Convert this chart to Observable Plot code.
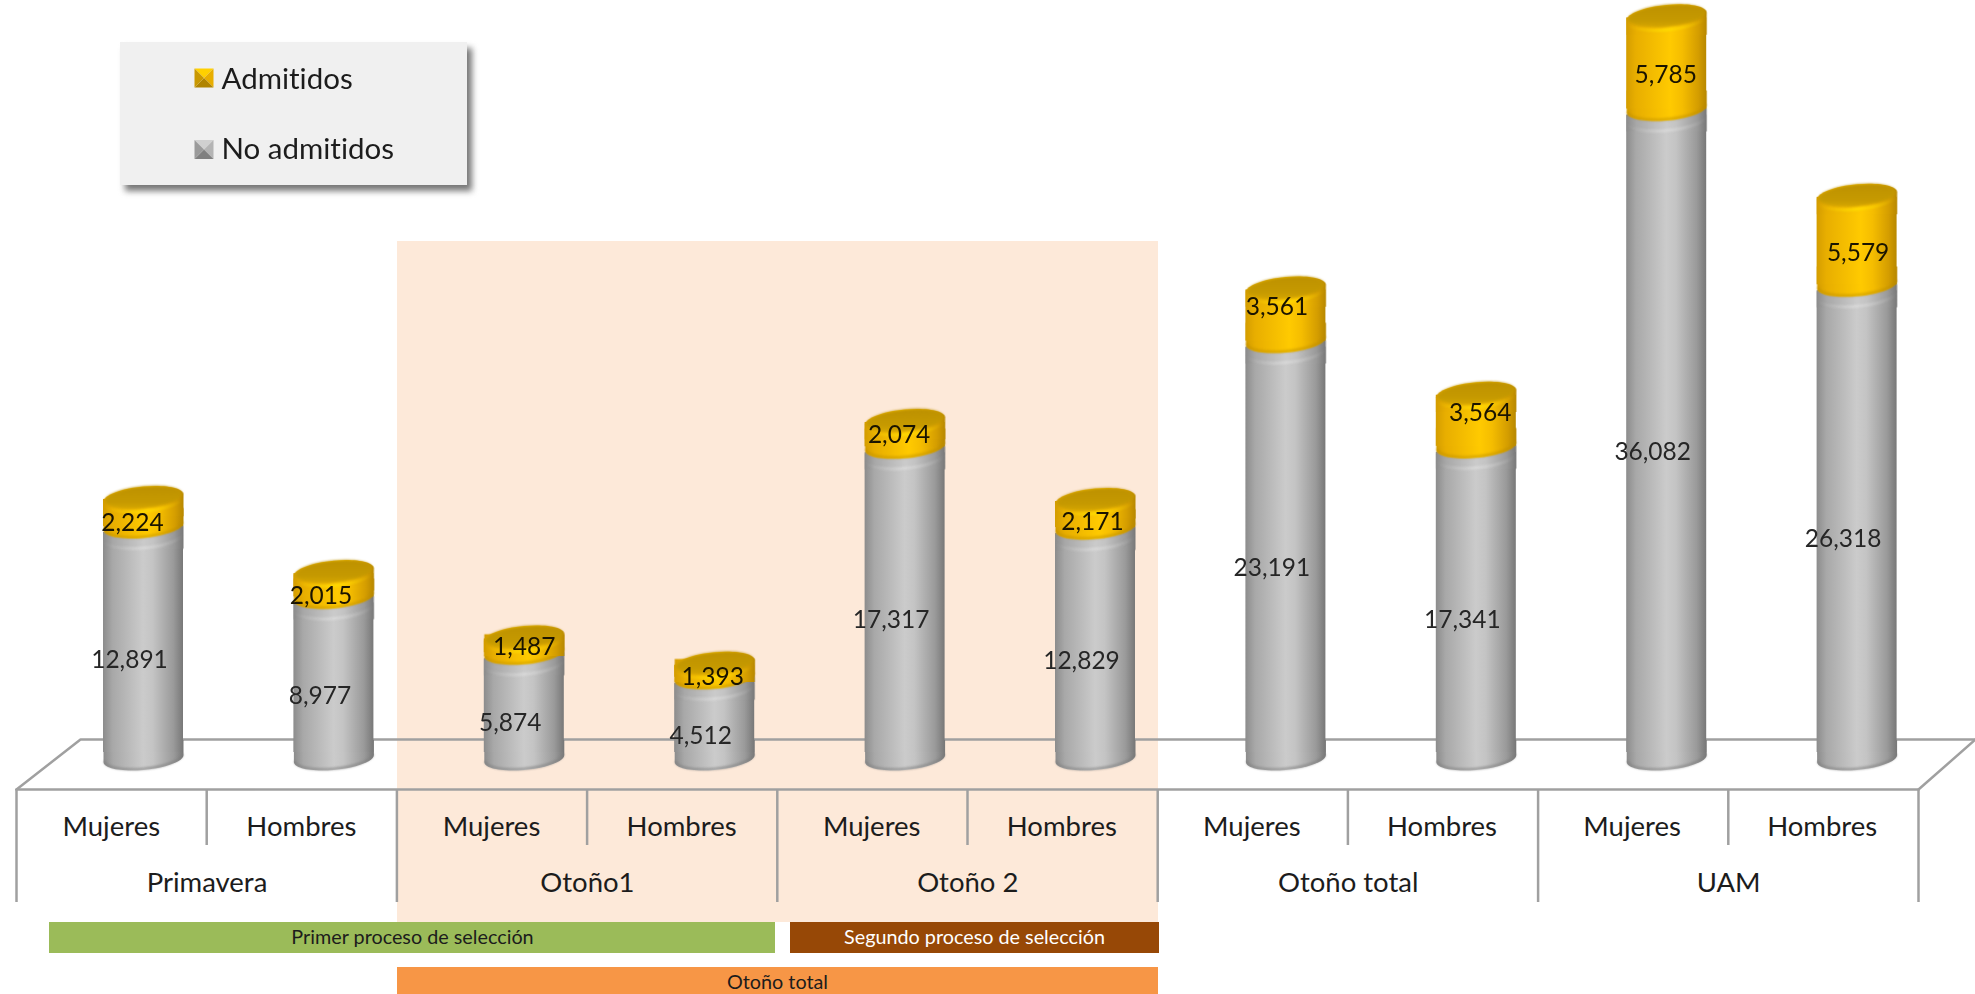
<!DOCTYPE html>
<html><head><meta charset="utf-8">
<script src="https://cdn.jsdelivr.net/npm/d3@7"></script>
<script src="https://cdn.jsdelivr.net/npm/@observablehq/plot@0.6"></script>
<style>html,body{margin:0;padding:0;background:#fff}svg{display:block}text{font-variant-ligatures:none}</style>
</head><body><div id="chart"></div>
<script>
const groups = ["Primavera", "Otoño1", "Otoño 2", "Otoño total", "UAM"];
const sexes = ["Mujeres", "Hombres", "Mujeres", "Hombres", "Mujeres", "Hombres", "Mujeres", "Hombres", "Mujeres", "Hombres"];
const noAdmitidos = [12891, 8977, 5874, 4512, 17317, 12829, 23191, 17341, 36082, 26318];
const admitidos = [2224, 2015, 1487, 1393, 2074, 2171, 3561, 3564, 5785, 5579];
const legendLabels = ["Admitidos", "No admitidos"];
const procesos = ["Primer proceso de selección", "Segundo proceso de selección", "Otoño total"];

// layout: pixel <-> data helpers (the scales are defined from these)
const W = 1975, H = 994;
const PXV = 0.018, BASE = 758, C0 = 143, STEP = 190.4, CELL = 190.2;
const Y = px => (BASE - px) / PXV;
const X = px => (px - C0) / STEP;
const halfBar = 40 / STEP;
const RY = 11.5, KTILT = 0.09, KAPPA = 0.5523;

const rows = noAdmitidos.map((no, i) => ({i, no, adm: admitidos[i], total: no + admitidos[i]}));

// custom dot symbols: sheared ellipse pieces, sized by the dot's r
const radius = size => Math.sqrt(size / Math.PI);
function halfArc(c, rx, ry, sign, k, move) {
  const P = (x, y) => [x, y - k * x];
  const pts = [[-rx, sign * KAPPA * ry], [-KAPPA * rx, sign * ry], [0, sign * ry], [KAPPA * rx, sign * ry], [rx, sign * KAPPA * ry], [rx, 0]];
  const s = P(-rx, 0);
  if (move) c.moveTo(s[0], s[1]); else c.lineTo(s[0], s[1]);
  for (let j = 0; j < 6; j += 3) {
    const a = P(...pts[j]), b = P(...pts[j + 1]), e = P(...pts[j + 2]);
    c.bezierCurveTo(a[0], a[1], b[0], b[1], e[0], e[1]);
  }
}
const symEllipse = {draw(c, size) { const r = radius(size), ry = r * RY / 40;
  halfArc(c, r, ry, -1, KTILT, true);
  const P = (x, y) => [x, y - KTILT * x];
  const seq = [[r, KAPPA * ry], [KAPPA * r, ry], [0, ry], [-KAPPA * r, ry], [-r, KAPPA * ry], [-r, 0]].map(p => P(...p));
  c.bezierCurveTo(...seq[0], ...seq[1], ...seq[2]); c.bezierCurveTo(...seq[3], ...seq[4], ...seq[5]); c.closePath(); }};
const symCrown = {draw(c, size) { const r = radius(size), ry = r * RY / 40;
  c.moveTo(-r, ry * 1.6); halfArc(c, r, ry, -1, KTILT, false); c.lineTo(r, ry * 1.6); c.closePath(); }};
const symBoot = {draw(c, size) { const r = radius(size), ry = r * RY / 40;
  c.moveTo(-r, -ry * 1.6); halfArc(c, r, ry, 1, KTILT, false); c.lineTo(r, -ry * 1.6); c.closePath(); }};
const symSmile = {draw(c, size) { const r = radius(size), ry = r * RY / 40; halfArc(c, r, ry, 1, KTILT, true); }};
const tri = (ax, ay, bx, by) => ({draw(c, size) { const r = radius(size);
  c.moveTo(0, 0); c.lineTo(ax * r, ay * r); c.lineTo(bx * r, by * r); c.closePath(); }});

const defs = () => {
  const grad = (id, stops, v) => `<linearGradient id="${id}" x1="0" x2="${v ? 0 : 1}" y1="0" y2="${v ? 1 : 0}">` +
    stops.map(([o, col, op]) => `<stop offset="${o}" stop-color="${col}" stop-opacity="${op ?? 1}"/>`).join("") + `</linearGradient>`;
  const s = document.createElementNS("http://www.w3.org/2000/svg", "defs");
  s.innerHTML =
    grad("gGray", [[0, "#8c8c8c"], [0.12, "#a8a8a8"], [0.5, "#cbcbcb"], [0.62, "#c4c4c4"], [0.88, "#9a9a9a"], [1, "#787878"]]) +
    grad("gGold", [[0, "#d49d00"], [0.12, "#e8ae00"], [0.55, "#ffca00"], [0.7, "#f5bd00"], [0.9, "#d49d00"], [1, "#b88800"]]) +
    grad("gTop", [[0, "#bd9100"], [0.7, "#c69a00"], [1, "#d6a600"]], true) +
    grad("gRimGold", [[0, "#ffd800", 0], [0.5, "#ffe000", 0.85], [1, "#ffd800", 0]]) +
    grad("gRimGray", [[0, "#dcdcdc", 0], [0.5, "#e4e4e4", 0.7], [1, "#dcdcdc", 0]]);
  return s;
};

const txt = "#1c1c1c", axisGray = "#a0a0a0", F = "Lato";
const soft = "blur(0.5px)";
const box = (x0, x1, y0, y1, fill, extra = {}) =>
  Plot.rect([0], {x1: () => X(x0), x2: () => X(x1), y1: () => Y(y0), y2: () => Y(y1), fill, ...extra});
const poly = (pts, o = {}) => Plot.line(pts, {x: d => X(d[0]), y: d => Y(d[1]), stroke: axisGray, strokeWidth: 2.5, ...o});
const label = (t, x, y, size, fill = txt) =>
  Plot.text([t], {x: () => X(x), y: () => Y(y), text: d => d, fontSize: size, fontFamily: F, fill});

const goldNudgeX = [-11, -13, 0, -2, -6, -3, -9, 4, -1, 1];
const goldNudgeY = [17, 17, 8, 12, 7, 14, -2, -1, 18, 19];

const legendSquare = (y, c) => [
  [tri(-1, -1, 1, -1), c[0]], [tri(1, -1, 1, 1), c[1]], [tri(1, 1, -1, 1), c[2]], [tri(-1, 1, -1, -1), c[3]]
].map(([symbol, fill]) => Plot.dot([0], {x: () => X(203.5), y: () => Y(y), r: 9.5, symbol, fill}));

const tickPos = d3.range(0, 10).map(i => X(110.8 + i * 190.1));

const chart = Plot.plot({
  width: W, height: H, margin: 0,
  style: {background: "#fff", fontFamily: F},
  x: {type: "linear", domain: [X(0), X(W)], range: [0, W], axis: null},
  y: {type: "linear", domain: [Y(H), Y(0)], range: [H, 0], axis: null},
  marks: [
    defs,
    box(397, 1158, 241, 922, "#fde9d9"),
    // 3D floor
    poly([[16, 789], [80, 739], [1975, 739]]),
    poly([[1918, 789], [1975, 739]]),
    poly([[16, 789], [1918, 789]]),
    // category dividers
    Plot.ruleX(d3.range(0, 11), {x: d => X(16 + d * CELL), y1: () => Y(789), y2: d => Y(d % 2 ? 845 : 902), stroke: axisGray, strokeWidth: 2.5}),
    Plot.axisX(tickPos, {anchor: "bottom", tickSize: 0, tickPadding: 0, dy: -167, lineAnchor: "middle",
      tickFormat: v => sexes[tickPos.indexOf(v)], fontSize: 27.5, fontFamily: F, fill: txt, label: null}),
    Plot.text(groups, {x: (d, i) => X(206.5 + i * 380.4), y: () => Y(883), text: d => d, fontSize: 27.5, fontFamily: F, fill: txt}),
    // process bands
    box(49, 775, 922, 953, "#9bbb59"),
    box(790, 1159, 922, 953, "#974806"),
    box(397, 1158, 967, 994, "#f79646"),
    label(procesos[0], 412, 937.5, 19.8),
    label(procesos[1], 974, 937.5, 19.8, "#fff"),
    label(procesos[2], 777, 982, 19.8),
    // grey cylinders
    Plot.dot(rows, {x: "i", y: () => 0, r: 40, symbol: symBoot, fill: "url(#gGray)", imageFilter: soft}),
    Plot.rect(rows, {x1: d => d.i - halfBar, x2: d => d.i + halfBar, y1: () => 0, y2: "no", fill: "url(#gGray)", insetTop: 6, insetBottom: 6, imageFilter: soft}),
    Plot.dot(rows, {x: "i", y: () => 0, dy: -1, r: 39, symbol: symSmile, fill: "none", stroke: "#7d7d7d", strokeOpacity: 0.7, strokeWidth: 2, imageFilter: "blur(1px)"}),
    Plot.dot(rows, {x: "i", y: "no", dy: 4, r: 40, symbol: symCrown, fill: "url(#gGray)", imageFilter: soft}),
    Plot.dot(rows, {x: "i", y: "no", dy: 10, r: 40, symbol: symSmile, fill: "none", stroke: "url(#gRimGray)", strokeWidth: 2.5, imageFilter: "blur(1px)"}),
    // gold cylinders
    Plot.dot(rows, {x: "i", y: "no", r: 40, symbol: symBoot, fill: "url(#gGold)", imageFilter: soft}),
    Plot.rect(rows, {x1: d => d.i - halfBar, x2: d => d.i + halfBar, y1: "no", y2: "total", fill: "url(#gGold)", insetTop: 13, imageFilter: soft}),
    Plot.dot(rows, {x: "i", y: "no", dy: -1, r: 39, symbol: symSmile, fill: "none", stroke: "#b98c00", strokeOpacity: 0.6, strokeWidth: 2, imageFilter: "blur(1px)"}),
    Plot.dot(rows, {x: "i", y: "total", dy: RY, r: 40, symbol: symCrown, fill: "url(#gGold)", imageFilter: soft}),
    Plot.dot(rows, {x: "i", y: "total", dy: RY - 0.5, r: 38.5, symbol: symEllipse, fill: "url(#gTop)", imageFilter: "blur(0.8px)"}),
    Plot.dot(rows, {x: "i", y: "total", dy: RY + 2, r: 40, symbol: symSmile, fill: "none", stroke: "url(#gRimGold)", strokeWidth: 2.5, imageFilter: "blur(1px)"}),
    // data labels
    Plot.text(rows, {x: "i", y: d => d.no / 2, dx: -14, dy: 18, text: d => d3.format(",")(d.no), fontSize: 24.5, fontFamily: F, fill: "#262626"}),
    ...goldNudgeX.map((dx, i) => Plot.text([rows[i]], {x: "i", y: d => d.no + d.adm / 2, dx, dy: goldNudgeY[i], text: d => d3.format(",")(d.adm), fontSize: 24.5, fontFamily: F, fill: "#1a1400"})),
    // legend
    box(120, 467, 42, 185, "#777", {dx: 5, dy: 6, imageFilter: "blur(3px)"}),
    box(120, 467, 42, 185, "#f0f0f0"),
    ...legendSquare(77.5, ["#ffd000", "#e8ae00", "#b08400", "#c99800"]),
    ...legendSquare(149, ["#d0d0d0", "#b4b4b4", "#808080", "#9a9a9a"]),
    Plot.text(legendLabels, {x: () => X(221), y: (d, i) => Y(i ? 149 : 79), text: d => d, textAnchor: "start", fontSize: 29.5, fontFamily: F, fill: txt})
  ]
});
document.getElementById("chart").append(chart);
</script></body></html>
